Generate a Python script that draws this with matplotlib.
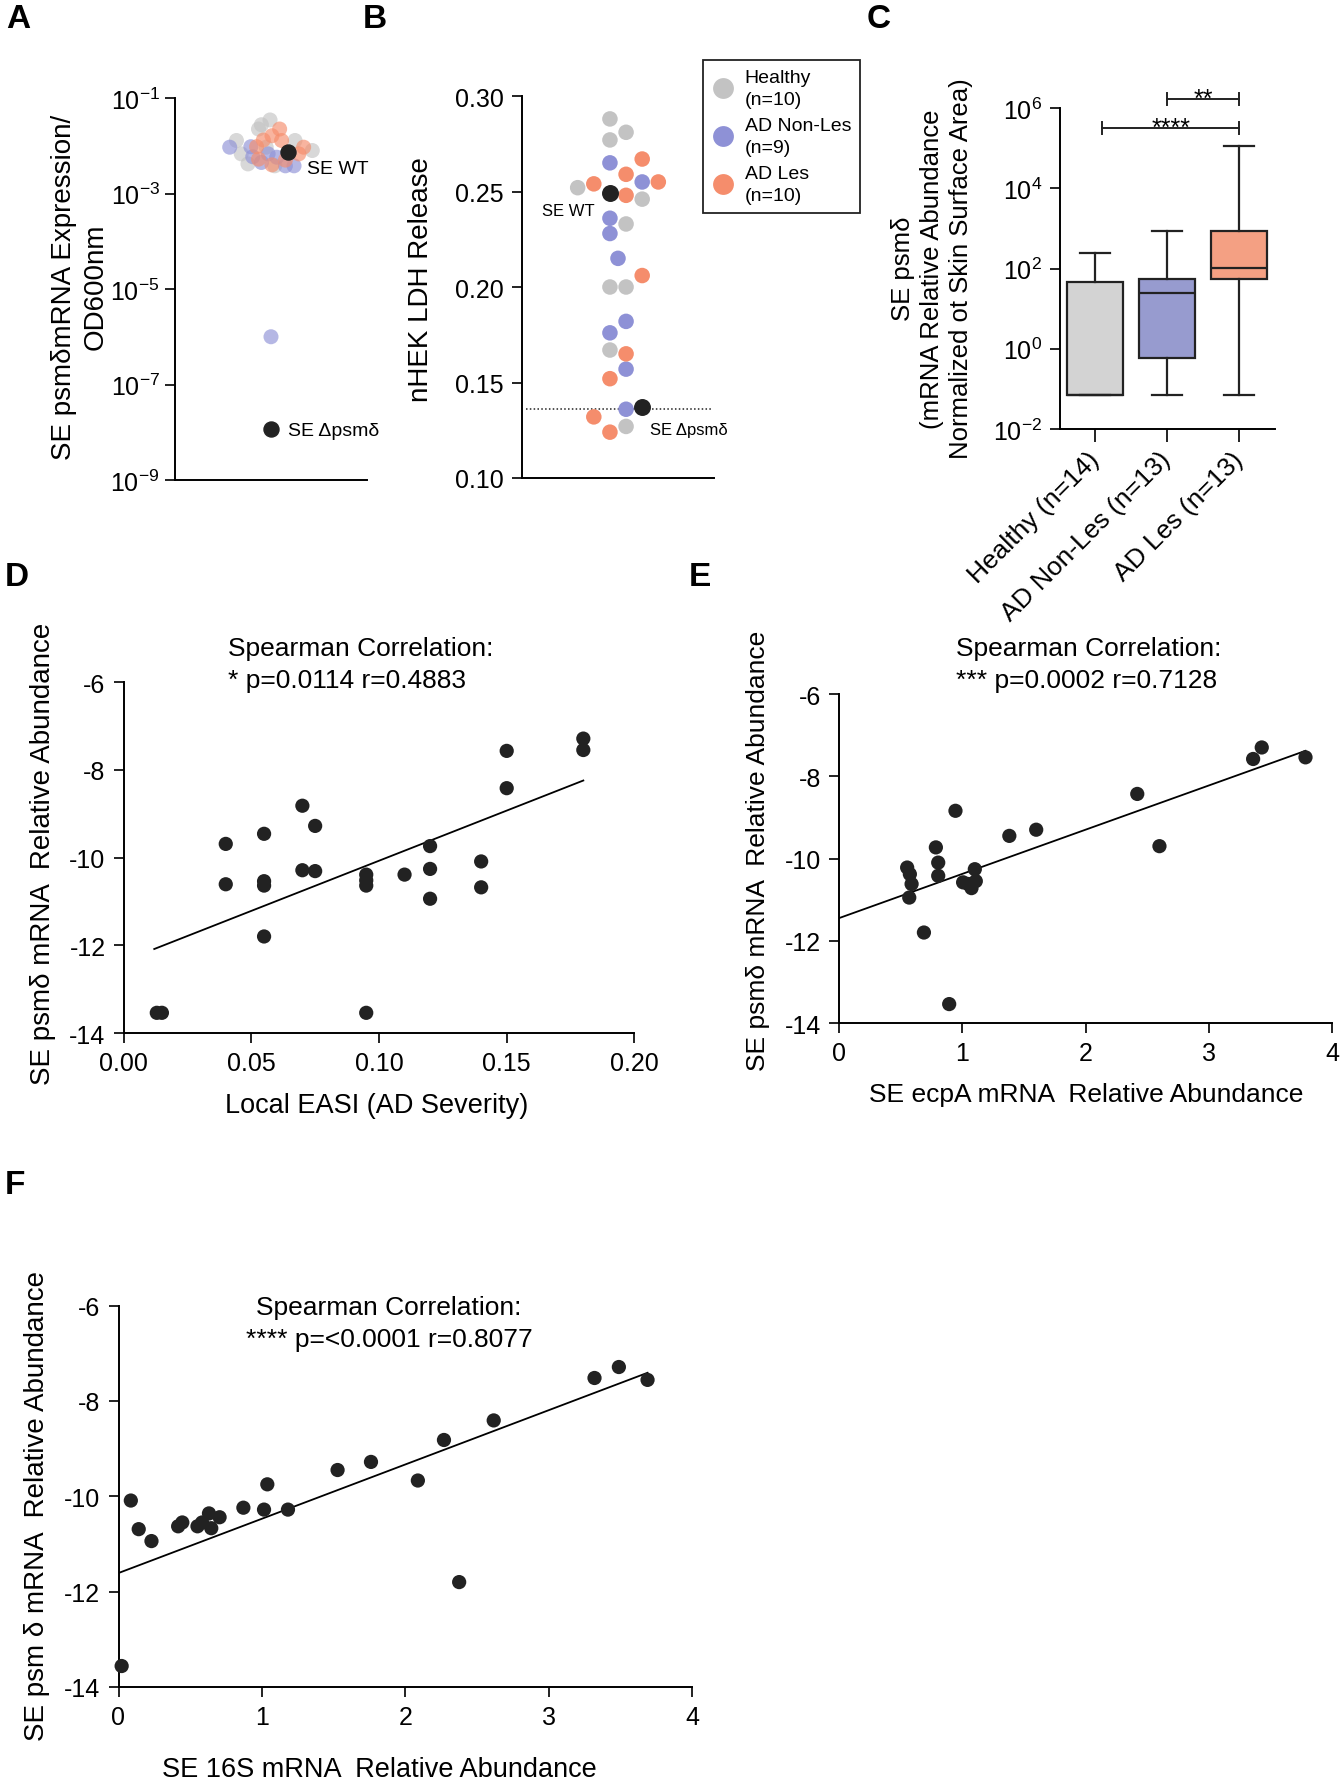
import numpy as np
import matplotlib
matplotlib.use('Agg')
import matplotlib.pyplot as plt
from matplotlib.lines import Line2D
from matplotlib.ticker import NullLocator

plt.rcParams['font.family'] = ['Liberation Sans', 'DejaVu Sans']
plt.rcParams['mathtext.fontset'] = 'custom'
plt.rcParams['mathtext.rm'] = 'Liberation Sans'
plt.rcParams['mathtext.it'] = 'Liberation Sans:italic'
plt.rcParams['mathtext.bf'] = 'Liberation Sans:bold'
plt.rcParams['axes.unicode_minus'] = False
plt.rcParams['axes.linewidth'] = 1.4

GRAY = '#c3c3c3'
BLUE = '#8e91d6'
ORANGE = '#f58d6c'
BLACK = '#222222'
BOX_COLORS = ['#d3d3d3', '#979bcf', '#f4a083']

# ---- Panel A: psm-delta expression / OD600 (log10 values), x = jitter
a_healthy_x = [-0.10, -0.01, -0.13, -0.36, -0.31, -0.24, 0.25, 0.43, 0.04, -0.05]
a_healthy_log = [-1.56, -1.46, -1.65, -1.89, -2.17, -2.38, -1.89, -2.10, -2.42, -2.03]
a_nonles_x = [-0.43, -0.21, -0.19, -0.03, 0.06, 0.15, 0.24, -0.10, 0.0]
a_nonles_log = [-2.03, -2.02, -2.23, -2.17, -2.24, -2.42, -2.42, -2.35, -6.0]
a_les_x = [0.09, 0.01, 0.11, -0.08, -0.15, 0.34, -0.13, 0.01, 0.15, 0.29]
a_les_log = [-1.65, -1.79, -1.89, -1.88, -2.02, -2.03, -2.28, -2.40, -2.30, -2.17]
a_wt = (0.18, -2.14)
a_ko = (0.0, -7.93)

# ---- Panel B: nHEK LDH release, slot = beeswarm column
b_healthy_slot = [-0.5, 0.5, -0.5, -2.5, 1.5, 0.5, -0.5, 0.5, -0.5, 0.5]
b_healthy = [0.288, 0.281, 0.277, 0.252, 0.246, 0.233, 0.200, 0.200, 0.167, 0.127]
b_nonles_slot = [-0.5, 1.5, -0.5, -0.5, 0, 0.5, -0.5, 0.5, 0.5]
b_nonles = [0.265, 0.255, 0.236, 0.228, 0.215, 0.182, 0.176, 0.157, 0.136]
b_les_slot = [1.5, 0.5, -1.5, 2.5, 0.5, 1.5, 0.5, -0.5, -1.5, -0.5]
b_les = [0.267, 0.259, 0.254, 0.255, 0.248, 0.206, 0.165, 0.152, 0.132, 0.124]
b_wt = (-0.5, 0.249)
b_ko = (1.5, 0.137)
b_ko_level = 0.136

# ---- Panel C: box plot stats
c_groups = ['Healthy (n=14)', 'AD Non-Les (n=13)', 'AD Les (n=13)']
c_whislo = [0.069, 0.069, 0.069]
c_q1 = [0.069, 0.59, 55]
c_med = [0.069, 25, 104]
c_q3 = [46, 55, 870]
c_whishi = [245, 880, 1.16e5]

# ---- Panel D/E/F: scatter + fitted line
d_easi = [0.013, 0.015, 0.040, 0.040, 0.055, 0.055, 0.055, 0.055, 0.070, 0.070, 0.075, 0.075, 0.095,
          0.095, 0.095, 0.095, 0.110, 0.120, 0.120, 0.120, 0.140, 0.140, 0.150, 0.150, 0.180, 0.180]
d_psmd = [-13.54, -13.54, -9.69, -10.61, -9.46, -10.54, -10.64, -11.80, -8.82, -10.29, -9.28, -10.31, -10.39,
          -10.52, -10.64, -13.54, -10.39, -9.74, -10.26, -10.94, -10.09, -10.68, -7.57, -8.42, -7.29, -7.55]
d_fit = (22.86, -12.36, 0.012, 0.180)  # slope, intercept, x from, x to

e_ecpa = [0.553, 0.575, 0.589, 0.570, 0.689, 0.786, 0.805, 0.805, 0.894, 0.945, 1.007, 1.048, 1.075,
          1.102, 1.110, 1.382, 1.600, 2.420, 2.600, 3.360, 3.430, 3.785]
e_psmd = [-10.22, -10.38, -10.62, -10.95, -11.80, -9.73, -10.10, -10.42, -13.54, -8.84, -10.58, -10.62,
          -10.72, -10.26, -10.55, -9.45, -9.30, -8.43, -9.70, -7.58, -7.30, -7.54]
e_fit = (1.075, -11.45, 0.0, 3.785)

f_16s = [0.022, 0.086, 0.141, 0.230, 0.416, 0.445, 0.551, 0.583, 0.631, 0.647, 0.705, 0.871, 1.015, 1.038,
         1.182, 1.528, 1.761, 2.088, 2.270, 2.376, 2.617, 3.320, 3.490, 3.690]
f_psmd = [-13.56, -10.09, -10.69, -10.94, -10.63, -10.55, -10.63, -10.55, -10.36, -10.67, -10.44, -10.24,
          -10.28, -9.75, -10.28, -9.45, -9.28, -9.67, -8.82, -11.80, -8.41, -7.52, -7.29, -7.56]
f_fit = (1.138, -11.61, 0.0, 3.690)

W, H = 1340, 1781
fig = plt.figure(figsize=(W / 100, H / 100), dpi=100)


def add_ax(x0, y0, x1, y1):
    return fig.add_axes([x0 / W, 1 - y1 / H, (x1 - x0) / W, (y1 - y0) / H])


def fig_text(x, y, s, **kw):
    return fig.text(x / W, 1 - y / H, s, **kw)


def style(ax, size=18):
    for side in ['top', 'right']:
        ax.spines[side].set_visible(False)
    ax.tick_params(direction='out', length=7, width=1.4, labelsize=size, pad=6, color='#222222')


# ---------------- A
ax = add_ax(175, 99, 367, 481)
style(ax)
ax.set_yscale('log')
ax.set_xlim(-1, 1)
ax.set_ylim(1e-9, 1e-1)
ax.set_xticks([])
ax.set_yticks([1e-1, 1e-3, 1e-5, 1e-7, 1e-9])
ax.set_yticklabels(['$10^{-1}$', '$10^{-3}$', '$10^{-5}$', '$10^{-7}$', '$10^{-9}$'])
ax.yaxis.set_minor_locator(NullLocator())
ax.tick_params(axis='y', pad=4)
for xs, ls, c in [(a_healthy_x, a_healthy_log, GRAY), (a_nonles_x, a_nonles_log, BLUE),
                  (a_les_x, a_les_log, ORANGE)]:
    ax.scatter(xs, 10 ** np.array(ls), s=117, color=c, alpha=0.65, edgecolors='none', clip_on=False, zorder=3)
ax.scatter([a_wt[0], a_ko[0]], 10 ** np.array([a_wt[1], a_ko[1]]), s=117, color=BLACK, zorder=4, clip_on=False)
fig_text(307, 169, 'SE WT', fontsize=14, va='center')
fig_text(288, 431, 'SE \u0394psm\u03b4', fontsize=14, va='center')
fig_text(80, 287, 'SE psm\u03b4mRNA Expression/\nOD600nm', fontsize=20, rotation=90,
         ha='center', va='center', multialignment='center', linespacing=1.25)

# ---------------- B
slot_w = 0.168
ax = add_ax(522, 97, 714, 479)
style(ax)
ax.set_xlim(-1, 1)
ax.set_ylim(0.10, 0.30)
ax.set_xticks([])
ax.set_yticks([0.10, 0.15, 0.20, 0.25, 0.30])
ax.set_yticklabels(['0.10', '0.15', '0.20', '0.25', '0.30'])
ax.plot([-0.96, 0.99], [b_ko_level, b_ko_level], color=BLACK, lw=1.1, ls=(0, (1, 1.5)), zorder=2)
for sl, vals, c in [(b_healthy_slot, b_healthy, GRAY), (b_nonles_slot, b_nonles, BLUE),
                    (b_les_slot, b_les, ORANGE)]:
    ax.scatter(np.array(sl) * slot_w, vals, s=125, color=c, edgecolors='none', zorder=3, clip_on=False)
ax.scatter(np.array([b_wt[0], b_ko[0]]) * slot_w, [b_wt[1], b_ko[1]], s=125, color=BLACK, zorder=4)
fig_text(595, 211, 'SE WT', fontsize=12, ha='right', va='center')
fig_text(650, 430, 'SE \u0394psm\u03b4', fontsize=12, va='center')
fig_text(421, 280, 'nHEK LDH Release', fontsize=20, rotation=90, ha='center', va='center')
handles = [Line2D([], [], marker='o', ls='none', markersize=15, markerfacecolor=c, markeredgecolor='none')
           for c in [GRAY, BLUE, ORANGE]]
leg = ax.legend(handles, ['Healthy\n(n=10)', 'AD Non-Les\n(n=9)', 'AD Les\n(n=10)'],
                loc='upper left', bbox_to_anchor=(703 / W, 1 - 61 / H), bbox_transform=fig.transFigure,
                fontsize=14, frameon=True, fancybox=False, edgecolor='#222222', framealpha=1,
                handlelength=1.2, handletextpad=0.5, labelspacing=0.45, borderpad=0.45, borderaxespad=0)
for t in leg.get_texts():
    t.set_linespacing(1.4)
leg.get_frame().set_linewidth(1.3)

# ---------------- C
ax = add_ax(1060, 109, 1275, 430)
style(ax)
ax.set_yscale('log')
ax.set_ylim(1e-2, 1e6)
ax.set_xlim(-0.49, 2.5)
stats = []
for i, g in enumerate(c_groups):
    stats.append(dict(label=g, whislo=c_whislo[i], q1=c_q1[i], med=c_med[i], q3=c_q3[i],
                      whishi=c_whishi[i], fliers=[]))
bp = ax.bxp(stats, positions=[0, 1, 2], widths=0.78, capwidths=0.42, patch_artist=True, showfliers=False,
            boxprops=dict(linewidth=1.6, edgecolor=BLACK),
            medianprops=dict(linewidth=1.6, color=BLACK),
            whiskerprops=dict(linewidth=1.6, color=BLACK),
            capprops=dict(linewidth=1.6, color=BLACK))
for patch, c in zip(bp['boxes'], BOX_COLORS):
    patch.set_facecolor(c)
ax.set_yticks([1e-2, 1e0, 1e2, 1e4, 1e6])
ax.set_yticklabels(['$10^{-2}$', '$10^{0}$', '$10^{2}$', '$10^{4}$', '$10^{6}$'])
ax.yaxis.set_minor_locator(NullLocator())
ax.set_xticks([0, 1, 2])
ax.set_xticklabels(c_groups, rotation=45, ha='right', va='center', rotation_mode='anchor', fontsize=19)
ax.tick_params(axis='x', length=9, pad=10)
for x0, x1, lev, stars in [(1, 2, 6.216, '**'), (0.1, 2, 5.51, '****')]:
    y = 10 ** lev
    ax.plot([x0, x1], [y, y], color=BLACK, lw=1.4, clip_on=False)
    for xe in (x0, x1):
        ax.plot([xe, xe], [10 ** (lev - 0.15), 10 ** (lev + 0.15)], color=BLACK, lw=1.4, clip_on=False)
    ax.annotate(stars, ((x0 + x1) / 2, y), xytext=(0, -5), textcoords='offset points',
                ha='center', va='baseline', fontsize=18, annotation_clip=False)
fig_text(932, 269, 'SE psm\u03b4\n(mRNA Relative Abundance\nNormalized ot Skin Surface Area)', fontsize=18.5,
         rotation=90, ha='center', va='center', multialignment='center', linespacing=1.28)


# ---------------- D, E, F
def corr_panel(box, xs, ys, fit, xlim, xticks, xticklabels):
    ax = add_ax(*box)
    style(ax)
    ax.set_xlim(*xlim)
    ax.set_ylim(-14, -6)
    ax.set_yticks([-14, -12, -10, -8, -6])
    ax.set_xticks(xticks)
    ax.set_xticklabels(xticklabels)
    ax.scatter(xs, ys, s=105, color=BLACK, edgecolors='none', zorder=3, clip_on=False)
    slope, icpt, fx0, fx1 = fit
    ax.plot([fx0, fx1], [icpt + slope * fx0, icpt + slope * fx1], color='black', lw=1.3, zorder=2)
    return ax


corr_panel((123.6, 683, 634.4, 1034), d_easi, d_psmd, d_fit, (0, 0.2),
           [0, 0.05, 0.10, 0.15, 0.20], ['0.00', '0.05', '0.10', '0.15', '0.20'])
fig_text(228, 649, 'Spearman Correlation:', fontsize=19, va='center')
fig_text(228, 681, '* p=0.0114 r=0.4883', fontsize=19, va='center')
fig_text(43, 854, 'SE psm\u03b4 mRNA  Relative Abundance', fontsize=20, rotation=90, ha='center', va='center')
fig_text(377, 1106, 'Local EASI (AD Severity)', fontsize=19.5, ha='center', va='center')

corr_panel((839, 695, 1332, 1024), e_ecpa, e_psmd, e_fit, (0, 4),
           [0, 1, 2, 3, 4], ['0', '1', '2', '3', '4'])
fig_text(956, 649, 'Spearman Correlation:', fontsize=19, va='center')
fig_text(956, 681, '*** p=0.0002 r=0.7128', fontsize=19, va='center')
fig_text(758, 851, 'SE psm\u03b4 mRNA  Relative Abundance', fontsize=19, rotation=90, ha='center', va='center')
fig_text(1086, 1095, 'SE ecpA mRNA  Relative Abundance', fontsize=19, ha='center', va='center')

corr_panel((118.5, 1306.5, 692, 1688), f_16s, f_psmd, f_fit, (0, 4),
           [0, 1, 2, 3, 4], ['0', '1', '2', '3', '4'])
fig_text(389, 1308, 'Spearman Correlation:', fontsize=19, ha='center', va='center')
fig_text(389, 1340, '**** p=<0.0001 r=0.8077', fontsize=19, ha='center', va='center')
fig_text(37, 1506, 'SE psm \u03b4 mRNA  Relative Abundance', fontsize=20, rotation=90, ha='center', va='center')
fig_text(379, 1770, 'SE 16S mRNA  Relative Abundance', fontsize=19.5, ha='center', va='center')

# panel letters
for letter, x, y in [('A', 18, 20), ('B', 375, 20), ('C', 879, 20), ('D', 17, 578), ('E', 700, 578),
                     ('F', 15, 1186)]:
    fig_text(x, y, letter, fontsize=24, fontweight='bold', ha='center', va='center')

fig.savefig('out.png', dpi=100, facecolor='white')
